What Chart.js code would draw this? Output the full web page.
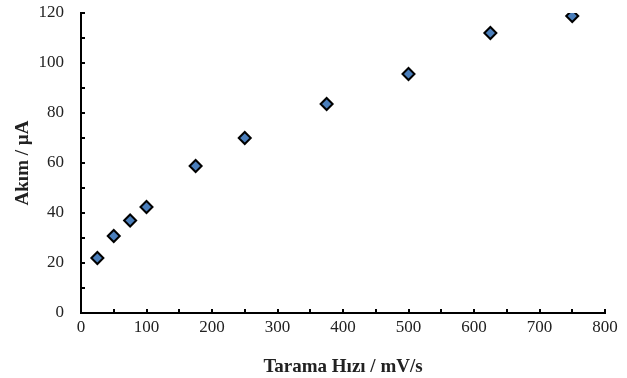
<!DOCTYPE html>
<html>
<head>
<meta charset="utf-8">
<script src="https://cdn.jsdelivr.net/npm/chart.js@4/dist/chart.umd.min.js"></script>
<style>
  html, body { margin: 0; padding: 0; background: #fff; }
  #wrap { width: 627px; height: 378px; }
</style>
</head>
<body>
<div id="wrap"><canvas id="scanChart"></canvas></div>
<script>
// Tarama hızı (mV/s) ve akım (µA)
const scanRates = [25, 50, 75, 100, 175, 250, 375, 500, 625, 750];
const currents = [22, 30.8, 37, 42.4, 58.8, 70, 83.6, 95.6, 112, 118.8];
const xTicks = [0, 100, 200, 300, 400, 500, 600, 700, 800];
const yTicks = [0, 20, 40, 60, 80, 100, 120];

const serif = "'Liberation Serif', 'Times New Roman', serif";

// inward tick marks (major + minor halfway)
const innerTicks = {
  id: 'innerTicks',
  afterDraw(chart) {
    const { ctx, chartArea: a, scales: { x, y } } = chart;
    ctx.save();
    ctx.strokeStyle = '#000';
    ctx.lineWidth = 2;
    ctx.beginPath();
    for (let v = 0; v <= 800; v += 50) {
      const px = Math.round(x.getPixelForValue(v));
      ctx.moveTo(px, a.bottom);
      ctx.lineTo(px, a.bottom - 4);
    }
    for (let v = 0; v <= 120; v += 10) {
      const py = Math.round(y.getPixelForValue(v));
      ctx.moveTo(a.left, py);
      ctx.lineTo(a.left + 4, py);
    }
    ctx.stroke();
    ctx.restore();
  }
};

new Chart(document.getElementById('scanChart'), {
  type: 'scatter',
  data: {
    datasets: [{
      data: scanRates.map((r, i) => ({ x: r, y: currents[i] })),
      pointStyle: 'rectRot',
      pointRadius: 6,
      pointHoverRadius: 6,
      backgroundColor: '#4a7ebb',
      borderColor: '#000',
      borderWidth: 2
    }]
  },
  options: {
    responsive: true,
    maintainAspectRatio: false,
    animation: false,
    layout: { padding: { top: 13, right: 22, left: 0, bottom: 0 } },
    plugins: { legend: { display: false }, tooltip: { enabled: false } },
    scales: {
      x: {
        type: 'linear',
        min: 0, max: 800,
        afterBuildTicks: s => { s.ticks = xTicks.map(v => ({ value: v })); },
        afterFit: s => { s.height = 65; s.paddingLeft = 0; s.paddingRight = 0; },
        grid: { display: true, drawOnChartArea: false, drawTicks: false },
        border: { color: '#000', width: 2 },
        ticks: { color: '#222', font: { family: serif, size: 17 }, padding: 4 },
        title: {
          display: true,
          text: 'Tarama Hızı / mV/s',
          color: '#222',
          font: { family: serif, size: 19, weight: 'bold' },
          padding: { top: 3, bottom: 0 }
        }
      },
      y: {
        min: 0, max: 120,
        afterBuildTicks: s => { s.ticks = yTicks.map(v => ({ value: v })); },
        afterFit: s => { s.width = 81; s.paddingTop = 0; s.paddingBottom = 0; },
        grid: { display: true, drawOnChartArea: false, drawTicks: false },
        border: { color: '#000', width: 2 },
        ticks: { color: '#222', font: { family: serif, size: 17 }, padding: 17 },
        title: {
          display: true,
          text: 'Akım / µA',
          color: '#222',
          font: { family: serif, size: 19, weight: 'bold' },
          padding: { top: 12, bottom: 0 }
        }
      }
    }
  },
  plugins: [innerTicks]
});
</script>
</body>
</html>
